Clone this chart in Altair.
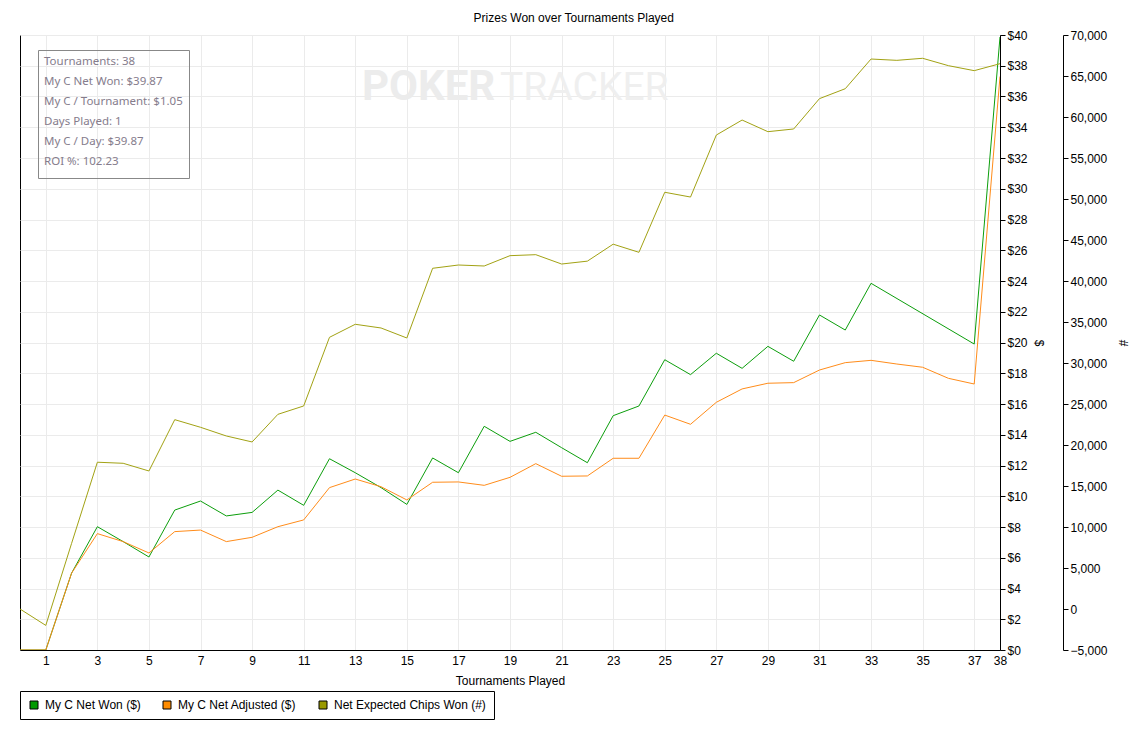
import altair as alt
import pandas as pd

tournaments = list(range(39))
net_won = [0, 0, 5.0, 8.02, 7.05, 6.05, 9.1, 9.69, 8.72, 8.95, 10.4, 9.41, 12.44, 11.53,
           10.56, 9.47, 12.49, 11.53, 14.55, 13.57, 14.16, 13.16, 12.18, 15.24, 15.87,
           18.88, 17.91, 19.30, 18.32, 19.75, 18.78, 21.79, 20.81, 23.85, None, None,
           None, 19.90, 39.87]
net_adjusted = [0, 0, 5.0, 7.57, 7.05, 6.31, 7.7, 7.8, 7.05, 7.33, 8.02, 8.46, 10.56,
                11.12, 10.62, 9.76, 10.91, 10.93, 10.71, 11.23, 12.12, 11.30, 11.32,
                12.47, 12.47, 15.28, 14.68, 16.11, 16.98, 17.35, 17.39, 18.21, 18.69,
                18.84, 18.60, 18.39, 17.67, 17.30, 37.3]
exp_chips = [0, -2000, 8000, 17900, 17770, 16830, 23090, 22160, 21100, 20370, 23740,
             24760, 33130, 34720, 34270, 33050, 41550, 41950, 41830, 43090, 43210, 42070,
             42420, 44490, 43500, 50820, 50240, 57800, 59630, 58210, 58540, 62240, 63450,
             67070, 66910, 67160, 66260, 65650, 66500]

series_names = ["My C Net Won ($)", "My C Net Adjusted ($)", "Net Expected Chips Won (#)"]
series_colors = ["#0c9e0c", "#ff8c1a", "#a2a214"]
legend_colors = ["#009900", "#ff8c00", "#999900"]
x_tick_values = list(range(1, 38, 2)) + [38]
usd_ticks = list(range(0, 41, 2))
chip_ticks = list(range(-5000, 70001, 5000))
info_lines = ["Tournaments: 38", "My C Net Won: $39.87", "My C / Tournament: $1.05",
              "Days Played: 1", "My C / Day: $39.87", "ROI %: 102.23"]
title_text = "Prizes Won over Tournaments Played"

rows = []
for n, g, o in zip(tournaments, net_won, net_adjusted):
    if g is not None:
        rows.append({"n": n, "series": series_names[0], "v": g})
    if o is not None:
        rows.append({"n": n, "series": series_names[1], "v": o})
usd_df = pd.DataFrame(rows)
chips_df = pd.DataFrame({"n": tournaments, "series": series_names[2], "v": exp_chips})
legend_df = pd.DataFrame({"key": series_names})
one = pd.DataFrame({"k": [0]})

FONT = "Liberation Sans"
GRID = "#ebebeb"
color_scale = alt.Scale(domain=series_names, range=series_colors)

x_enc = alt.X(
    "n:Q",
    scale=alt.Scale(domain=[0, 38], nice=False, zero=False),
    axis=alt.Axis(values=x_tick_values, title="Tournaments Played", ticks=False,
                  grid=True, gridColor=GRID, labelPadding=5, titlePadding=9,
                  labelFlush=False),
)

usd_lines = alt.Chart(usd_df).mark_line(strokeWidth=1, clip=True).encode(
    x=x_enc,
    y=alt.Y("v:Q", scale=alt.Scale(domain=[0, 40], nice=False),
            axis=alt.Axis(orient="right", values=usd_ticks,
                          labelExpr="'$' + datum.value", title="$", grid=True,
                          gridColor=GRID, tickSize=5, titlePadding=4,
                          labelFlush=False)),
    color=alt.Color("series:N", scale=color_scale, legend=None),
    order="n:Q",
)

chip_line = alt.Chart(chips_df).mark_line(strokeWidth=1, clip=True).encode(
    x=alt.X("n:Q", scale=alt.Scale(domain=[0, 38], nice=False, zero=False)),
    y=alt.Y("v:Q", scale=alt.Scale(domain=[-5000, 70000], nice=False, zero=False),
            axis=alt.Axis(orient="right", offset=63, values=chip_ticks, format=",.0f",
                          title="#", grid=False, tickSize=5, titlePadding=8,
                          labelFlush=False)),
    color=alt.Color("series:N", scale=color_scale, legend=None),
)

legend_layer = alt.Chart(legend_df).mark_square(
    filled=True, size=64, clip=True, opacity=1, stroke="black", strokeWidth=1
).encode(
    x=alt.value(-60), y=alt.value(-60),
    fill=alt.Fill(
        "key:N", scale=alt.Scale(domain=series_names, range=legend_colors),
        legend=alt.Legend(
            title=None, orient="none", legendX=0, legendY=656, direction="horizontal",
            strokeColor="black", fillColor="white", padding=8, symbolType="square",
            symbolSize=64, symbolStrokeWidth=1, symbolStrokeColor="black",
            symbolOpacity=1,
            labelFont=FONT, labelFontSize=12, labelColor="black", labelOffset=5,
            columnPadding=20, cornerRadius=0,
        ),
    ),
)

mark_poker = alt.Chart(one).mark_text(
    text="POKER", font="Roboto", fontSize=42, fontWeight="bold", color="#ececec",
    align="left", baseline="alphabetic"
).encode(x=alt.value(342), y=alt.value(65))
mark_tracker = alt.Chart(one).mark_text(
    text="TRACKER", font="Roboto", fontSize=39, fontWeight="normal", color="#efefef",
    align="left", baseline="alphabetic"
).encode(x=alt.value(480), y=alt.value(65))

info_box = alt.Chart(one).mark_rect(
    fillOpacity=0, stroke="#888888", strokeWidth=1
).encode(x=alt.value(18.5), x2=alt.value(169.5), y=alt.value(15.5), y2=alt.value(143.5))
info_text = alt.Chart(one).mark_text(
    align="left", baseline="middle", lineHeight=20, font="Noto Sans", fontSize=11.5,
    color="#857c8c"
).encode(x=alt.value(24), y=alt.value(27), text=alt.value(info_lines))

chart = alt.layer(
    mark_poker, mark_tracker, usd_lines, chip_line, legend_layer, info_box, info_text
).resolve_scale(y="independent").resolve_legend(
    color="independent", fill="independent"
).properties(
    width=980, height=615,
    autosize=alt.AutoSizeParams(type="none"),
    padding={"left": 12, "top": 27, "right": 138, "bottom": 80},
    title=alt.Title(title_text, anchor="middle", frame="bounds", fontSize=12,
                    fontWeight="normal", font=FONT, color="black", offset=4),
).configure_view(
    stroke="black", strokeWidth=1
).configure_axis(
    domainColor="black", tickColor="black", labelColor="black", titleColor="black",
    labelFont=FONT, labelFontSize=12, titleFont=FONT, titleFontSize=12,
    titleFontWeight="normal",
)

chart.save("out.html", embed_options={"renderer": "svg", "actions": False})
